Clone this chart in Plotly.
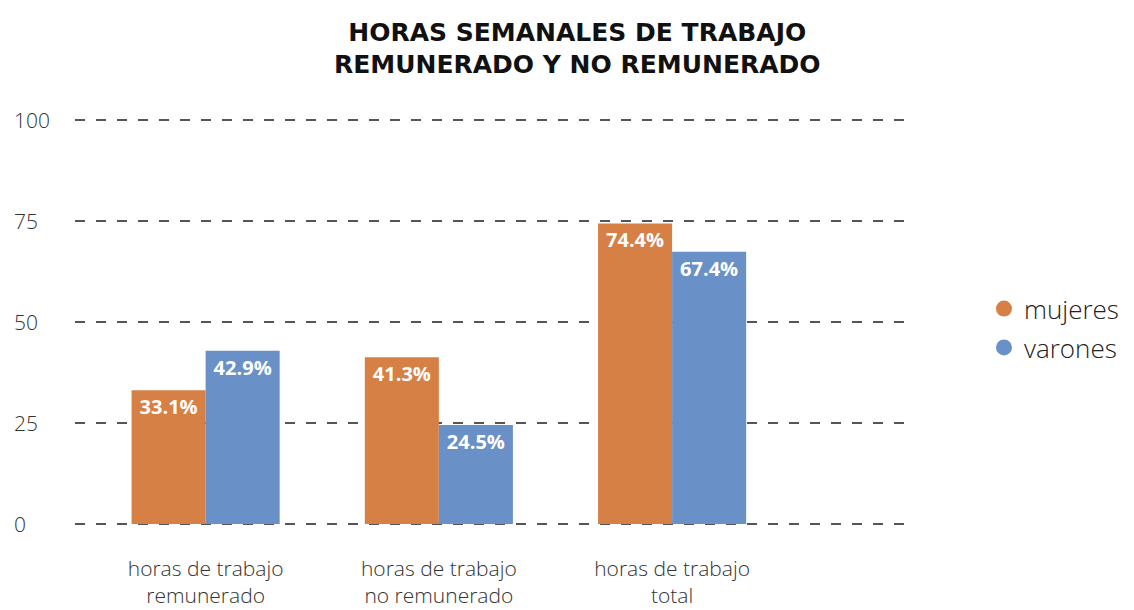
import plotly.graph_objects as go

categories = ["horas de trabajo<br>remunerado", "horas de trabajo<br>no remunerado", "horas de trabajo<br>total"]
mujeres = [33.1, 41.3, 74.4]
varones = [42.9, 24.5, 67.4]
y_ticks = [0, 25, 50, 75, 100]

ORANGE = "#D68045"
BLUE = "#6A91C7"
FONT = "Open Sans"

fig = go.Figure()
for name, vals, col in [("mujeres", mujeres, ORANGE), ("varones", varones, BLUE)]:
    fig.add_trace(go.Bar(
        x=categories, y=vals, name=name, marker=dict(color=col, line=dict(width=0)),
        text=[f"{v:.1f}%" for v in vals], textposition="inside", insidetextanchor="end",
        textfont=dict(family=FONT, size=20, color="white", weight="bold"),
        showlegend=False, cliponaxis=False,
    ))
    fig.add_trace(go.Scatter(
        x=[None], y=[None], mode="markers", name=name, legendgroup=name,
        marker=dict(symbol="circle", size=18, color=col),
    ))

annotations = []
for t in y_ticks:
    annotations.append(dict(x=-0.0754, xref="paper", y=t, yref="y", text=str(t),
                            showarrow=False, xanchor="left", yanchor="middle",
                            font=dict(family=FONT, size=21, color="#333333", weight=300)))

fig.update_layout(
    width=1134, height=610,
    paper_bgcolor="white", plot_bgcolor="white",
    margin=dict(l=67, r=232, t=108, b=90),
    barmode="group", bargap=0.365, bargroupgap=0,
    title=dict(text="<b>HORAS SEMANALES DE TRABAJO<br>REMUNERADO Y NO REMUNERADO</b>",
               x=0.502, xanchor="center", y=0.946, yanchor="middle", yref="container",
               font=dict(family="DejaVu Sans", size=25, color="#111111")),
    xaxis=dict(type="category", range=[-0.56, 3.02], showgrid=False, showline=False,
               ticks="", tickfont=dict(family=FONT, size=21, color="#333333", weight=300),
               ticklabelstandoff=26, automargin=False),
    yaxis=dict(range=[-1, 101], tickvals=y_ticks, showticklabels=False, showgrid=True,
               gridcolor="#555555", gridwidth=2, griddash="10px,11px", zeroline=False,
               showline=False, automargin=False),
    legend=dict(x=1.0886, xanchor="left", y=0.485, yanchor="middle", bgcolor="rgba(0,0,0,0)",
                font=dict(family=FONT, size=26, color="#222222", weight=300), tracegroupgap=2,
                itemwidth=30),
    annotations=annotations,
)

fig.write_html("out.html")
